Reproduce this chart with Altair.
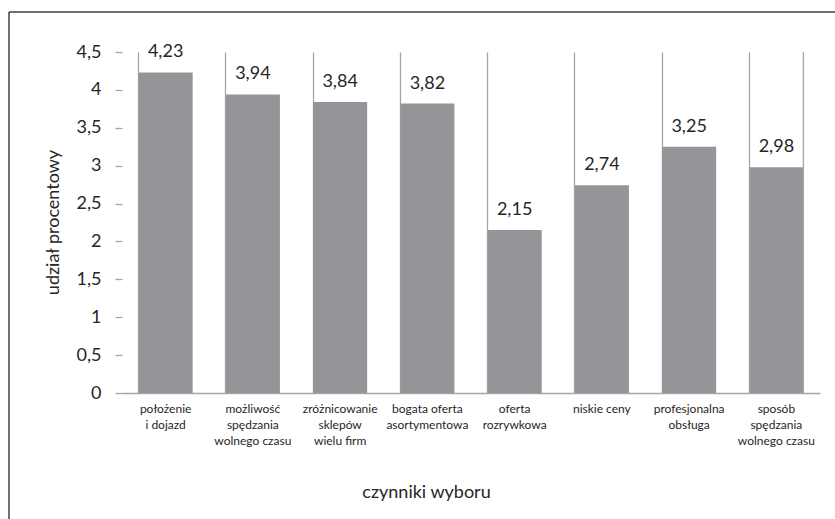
import altair as alt
import pandas as pd

categories = [
    "położenie|i dojazd",
    "możliwość|spędzania|wolnego czasu",
    "zróżnicowanie|sklepów|wielu firm",
    "bogata oferta|asortymentowa",
    "oferta|rozrywkowa",
    "niskie ceny",
    "profesjonalna|obsługa",
    "sposób|spędzania|wolnego czasu",
]
values = [4.23, 3.94, 3.84, 3.82, 2.15, 2.74, 3.25, 2.98]
y_ticks = [0, 0.5, 1, 1.5, 2, 2.5, 3, 3.5, 4, 4.5]

df = pd.DataFrame({"cat": categories, "val": values})
FONT = "Lato"
TXT = "#262626"
W, H = 698, 341

xscale = alt.Scale(domain=categories, paddingInner=0.38, paddingOuter=0.19)
yscale = alt.Scale(domain=[0, 4.5], nice=False)

x_axis = alt.Axis(
    title="czynniki wyboru",
    titleFont=FONT,
    titleFontSize=18,
    titleFontWeight="normal",
    titleColor=TXT,
    titleX=304,
    titleY=104,
    titleAlign="center",
    titleBaseline="alphabetic",
    labelExpr="split(datum.label, '|')",
    labelAngle=0,
    labelFont=FONT,
    labelFontSize=12,
    labelColor=TXT,
    labelLineHeight=16,
    labelPadding=10,
    labelBaseline="top",
    labelOverlap=False,
    ticks=False,
    grid=True,
    bandPosition=0,
    gridColor="#a6a6a6",
    gridWidth=1.3,
    domainColor="#a6a6a6",
    domainWidth=1.3,
)

y_axis = alt.Axis(
    title="udział procentowy",
    titleFont=FONT,
    titleFontSize=18,
    titleFontWeight="normal",
    titleColor=TXT,
    titleX=-69,
    titleY=170,
    titleAlign="center",
    titleBaseline="middle",
    values=y_ticks,
    labelExpr="replace(toString(datum.value), '.', ',')",
    labelFont=FONT,
    labelFontSize=18,
    labelColor=TXT,
    labelPadding=14,
    labelOverlap=False,
    labelFlush=False,
    tickSize=7,
    tickColor="#a6a6a6",
    tickWidth=1.3,
    domain=False,
    grid=False,
)

base = alt.Chart(df)

bars = base.mark_bar(color="#939598").encode(
    x=alt.X("cat:N", scale=xscale, sort=categories, axis=x_axis),
    y=alt.Y("val:Q", scale=yscale, axis=y_axis),
)

labels = base.transform_calculate(
    lab="replace(format(datum.val, '.2f'), '.', ',')"
).mark_text(
    font=FONT, fontSize=18, color=TXT, baseline="alphabetic", dy=-15
).encode(
    x=alt.X("cat:N", scale=xscale, sort=categories, axis=x_axis),
    y=alt.Y("val:Q", scale=yscale, axis=y_axis),
    text="lab:N",
)

right_sep = alt.Chart(pd.DataFrame({"cat": [categories[-1]]})).mark_rule(
    color="#a6a6a6", strokeWidth=1.3
).encode(
    x=alt.X("cat:N", scale=xscale, sort=categories, bandPosition=1, axis=x_axis),
    y=alt.value(0),
    y2=alt.value(H),
)

border_left = alt.Chart(pd.DataFrame({"a": [0]})).mark_rule(
    color="#404040", strokeWidth=1.5
).encode(x=alt.value(-113), y=alt.value(-40), y2=alt.value(H + 140))

border_top = alt.Chart(pd.DataFrame({"a": [0]})).mark_rule(
    color="#404040", strokeWidth=1.5
).encode(x=alt.value(-113), x2=alt.value(W + 40), y=alt.value(-40))

chart = (
    alt.layer(bars, labels, right_sep, border_left, border_top)
    .properties(
        width=W,
        height=H,
        autosize=alt.AutoSizeParams(type="none"),
        padding={"left": 122, "top": 52, "right": 15, "bottom": 126},
        background="white",
    )
    .configure_view(stroke=None)
)

chart.save("out.html", embed_options={"renderer": "svg", "actions": False})
